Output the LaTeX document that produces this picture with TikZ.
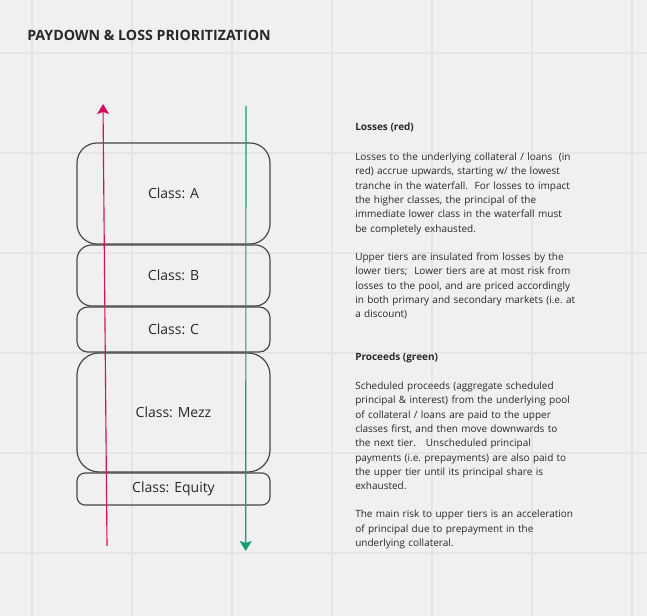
\documentclass[tikz,border=0pt]{standalone}
\usepackage{fontspec}
\setmainfont{Open Sans}
\usetikzlibrary{arrows.meta}
\definecolor{bg}{RGB}{240,240,240}
\definecolor{gridc}{RGB}{229,229,229}
\definecolor{boxc}{RGB}{72,72,72}
\definecolor{txt}{RGB}{40,40,40}
\definecolor{lossc}{RGB}{214,14,96}
\definecolor{procc}{RGB}{22,156,120}
\tikzset{
  box/.style={draw=boxc, line width=0.9pt, text=txt, minimum width=144.75pt, inner sep=0pt, font=\fontsize{10.5pt}{12pt}\selectfont},
  para/.style={anchor=base west, inner sep=0pt, text width=200pt, align=left, text=txt, font=\fontsize{7.5pt}{10.73pt}\selectfont},
  head/.style={anchor=base west, inner sep=0pt, text=txt, font=\fontsize{7.5pt}{10.73pt}\selectfont\bfseries},
  arr/.style={line width=0.85pt, -{Stealth[length=7.5pt, width=9pt, inset=1.5pt]}}
}
\begin{document}
\begin{tikzpicture}[x=0.75pt, y=-0.75pt]
\useasboundingbox (0,0) rectangle (647,616);
\fill[bg] (0,0) rectangle (647,616);
\foreach \gx in {32,132,...,632} \draw[gridc, line width=1.2pt] (\gx,0) -- (\gx,616);
\foreach \gy in {53,153,...,553} \draw[gridc, line width=1.2pt] (0,\gy) -- (647,\gy);

\node[anchor=base west, inner sep=0pt, text=txt, font=\fontsize{10.65pt}{12pt}\selectfont\bfseries] (title) at (27,41) {PAYDOWN \& LOSS PRIORITIZATION};

\node[box, minimum height=75.75pt, rounded corners=15pt] (A) at (173.5,193.5) {Class: A};
\node[box, minimum height=45.75pt, rounded corners=11pt] (B) at (173.5,275.5) {Class: B};
\node[box, minimum height=33.75pt, rounded corners=8pt] (C) at (173.5,329.5) {Class: C};
\node[box, minimum height=89.25pt, rounded corners=16.5pt] (M) at (173.5,412.5) {Class: Mezz};
\node[box, minimum height=24pt, rounded corners=6pt] (E) at (173.5,489) {Class: Equity};

\coordinate (ls) at (107,546);
\coordinate (le) at (103,104);
\coordinate (ps) at (246,106);
\coordinate (pe) at (245.7,551);
\draw[arr, lossc] (ls) -- (le);
\draw[arr, procc] (ps) -- (pe);

\node[head] (h1) at (355,131) {Losses (red)};
\node[para] (p1) at (355,160.5) {Losses to the underlying collateral / loans\ \ (in\\
red) accrue upwards, starting w/ the lowest\\
tranche in the waterfall.\ \ For losses to impact\\
the higher classes, the principal of the\\
immediate lower class in the waterfall must\\
be completely exhausted.};
\node[para] (p2) at (355,260.5) {Upper tiers are insulated from losses by the\\
lower tiers;\ \ Lower tiers are at most risk from\\
losses to the pool, and are priced accordingly\\
in both primary and secondary markets (i.e.\ at\\
a discount)};

\node[head] (h2) at (355,361) {Proceeds (green)};
\node[para] (p3) at (355,389.5) {Scheduled proceeds (aggregate scheduled\\
principal \& interest) from the underlying pool\\
of collateral / loans are paid to the upper\\
classes first, and then move downwards to\\
the next tier.\ \ \ Unscheduled principal\\
payments (i.e.\ prepayments) are also paid to\\
the upper tier until its principal share is\\
exhausted.};
\node[para] (p4) at (355,518) {The main risk to upper tiers is an acceleration\\
of principal due to prepayment in the\\
underlying collateral.};
\end{tikzpicture}
\end{document}
